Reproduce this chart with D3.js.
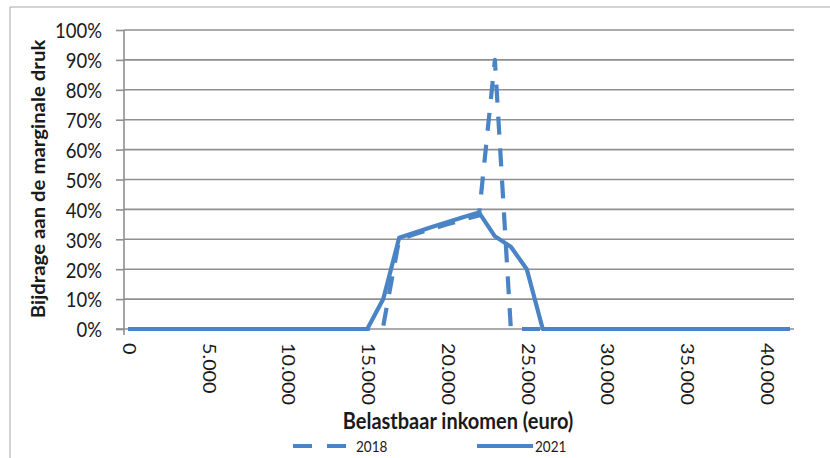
<!DOCTYPE html>
<html>
<head>
<meta charset="utf-8">
<script src="https://cdn.jsdelivr.net/npm/d3@7"></script>
<style>
  html, body { margin: 0; padding: 0; background: #fff; }
  svg { display: block; }
  text { font-family: Lato, "Open Sans", sans-serif; fill: #1a1a1a; }
</style>
</head>
<body>
<svg id="chart" width="830" height="458"></svg>
<script>
// ---- data ----
const seriesNames = ["2018", "2021"];
const income2018 = [0, 15000, 16000, 17000, 18000, 19000, 20000, 21000, 22000, 23000, 24000, 41500];
const value2018  = [0, 0, 0.01, 0.30, 0.318, 0.333, 0.35, 0.365, 0.38, 0.90, 0, 0];
const income2021 = [0, 15000, 16000, 17000, 18000, 19000, 20000, 21000, 22000, 23000, 24000, 25000, 26000, 41500];
const value2021  = [0, 0, 0.10, 0.305, 0.323, 0.34, 0.357, 0.374, 0.39, 0.31, 0.275, 0.20, 0, 0];
const xTickValues = [0, 5000, 10000, 15000, 20000, 25000, 30000, 35000, 40000];
const yTickValues = [0, 0.1, 0.2, 0.3, 0.4, 0.5, 0.6, 0.7, 0.8, 0.9, 1.0];
const xTitle = "Belastbaar inkomen (euro)";
const yTitle = "Bijdrage aan de marginale druk";

const color = "#4a84c4";
const gridColor = "#8f8f8f";
const SY = 1.1; // vertical stretch of text as seen in the reference

const svg = d3.select("#chart");

// frame
svg.append("path").attr("d", "M10,458 V7 H830")
  .attr("fill", "none").attr("stroke", "#a8a8a8").attr("stroke-width", 1);

const x = d3.scaleLinear().domain([-250, 41750]).range([124, 794]);
const y = d3.scaleLinear().domain([0, 1]).range([329, 30]);

// gridlines
svg.append("g").selectAll("line").data(yTickValues.filter(d => d > 0)).join("line")
  .attr("x1", x.range()[0]).attr("x2", x.range()[1])
  .attr("y1", d => y(d)).attr("y2", d => y(d))
  .attr("stroke", gridColor).attr("stroke-width", 1.6);

// y axis
const yAxis = svg.append("g").attr("transform", `translate(${x.range()[0]},0)`)
  .call(d3.axisLeft(y).tickValues(yTickValues).tickSize(8).tickPadding(13)
    .tickFormat(d => Math.round(d * 100) + "%"));
yAxis.select(".domain").attr("stroke", gridColor).attr("stroke-width", 1.6)
  .attr("d", `M0,${y(1)}V${y(0) + 6}`);
yAxis.selectAll(".tick line").attr("stroke", gridColor).attr("stroke-width", 1.6);
yAxis.selectAll(".tick text")
  .attr("font-size", 18.5).attr("fill", "#1a1a1a").attr("x", null).attr("dy", null)
  .attr("dominant-baseline", "central")
  .attr("transform", `translate(-22,0) scale(1,${SY})`);

// x axis baseline
svg.append("line")
  .attr("x1", x.range()[0] - 8).attr("x2", x.range()[1])
  .attr("y1", y(0)).attr("y2", y(0))
  .attr("stroke", gridColor).attr("stroke-width", 1.6);

// x tick labels (rotated)
svg.append("g").selectAll("text").data(xTickValues).join("text")
  .attr("transform", d => `translate(${x(d) + 2},343) scale(1,${SY}) rotate(90)`)
  .attr("font-size", 18)
  .attr("dominant-baseline", "central")
  .attr("text-anchor", "start")
  .text(d => d3.format(",")(d).replace(/,/g, "."));

// lines
const line = d3.line().x(d => x(d[0])).y(d => y(d[1]));
const d2018 = income2018.map((v, i) => [v, value2018[i]]);
const d2021 = income2021.map((v, i) => [v, value2021[i]]);

svg.append("path").datum(d2018).attr("d", line)
  .attr("fill", "none").attr("stroke", color).attr("stroke-width", 4.2)
  .attr("stroke-dasharray", "18,14").attr("stroke-linejoin", "round");
svg.append("path").datum(d2021).attr("d", line)
  .attr("fill", "none").attr("stroke", color).attr("stroke-width", 4.2)
  .attr("stroke-linejoin", "round");

// axis titles
svg.append("text")
  .attr("transform", `translate(458,429) scale(1,${SY})`)
  .attr("text-anchor", "middle").attr("font-size", 20).attr("font-weight", "bold")
  .text(xTitle);
svg.append("text")
  .attr("transform", `translate(45,179) scale(1,${SY})  rotate(-90)`)
  .attr("text-anchor", "middle").attr("font-size", 18.5).attr("font-weight", "bold")
  .text(yTitle);

// legend
const legend = svg.append("g");
legend.append("line").attr("x1", 293).attr("x2", 347).attr("y1", 446).attr("y2", 446)
  .attr("stroke", color).attr("stroke-width", 4).attr("stroke-dasharray", "19,15");
legend.append("text").attr("transform", `translate(356,452) scale(1,${SY})`)
  .attr("font-size", 13.5).text(seriesNames[0]);
legend.append("line").attr("x1", 477).attr("x2", 533).attr("y1", 446).attr("y2", 446)
  .attr("stroke", color).attr("stroke-width", 4);
legend.append("text").attr("transform", `translate(535,452) scale(1,${SY})`)
  .attr("font-size", 13.5).text(seriesNames[1]);
</script>
</body>
</html>
